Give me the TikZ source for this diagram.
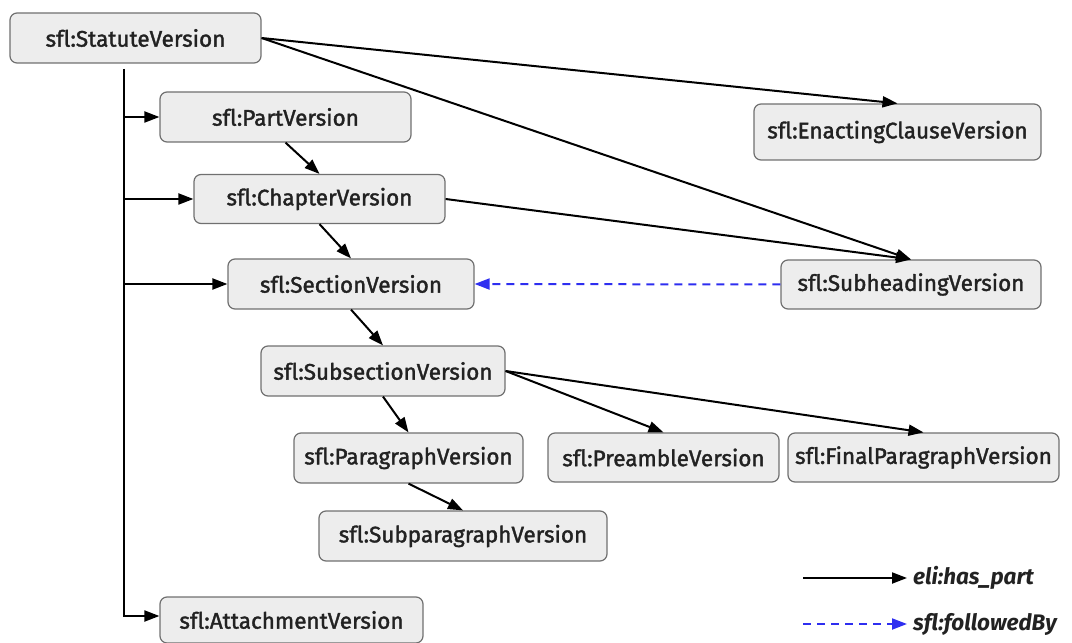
\documentclass[tikz,border=0pt]{standalone}
\usepackage{fontspec}
\setmainfont{Fira Sans}[Ligatures=NoCommon, RawFeature={embolden=1.6}]
\newfontfamily\legendfont{Fira Sans}[Ligatures=NoCommon]
\usetikzlibrary{arrows.meta}
\definecolor{boxfill}{HTML}{EDEDED}
\definecolor{boxline}{HTML}{707070}
\definecolor{labtext}{HTML}{222222}
\definecolor{seqblue}{HTML}{2E2EF0}
\tikzset{
  vbox/.style={draw=boxline, fill=boxfill, rounded corners=7bp, line width=1.2bp,
    text=labtext, inner sep=0pt, minimum height=50bp,
    font=\fontsize{22.5bp}{26bp}\selectfont},
  haspart/.style={draw=black, line width=2bp, -{Triangle[length=15bp,width=11bp]}},
  followed/.style={draw=seqblue, line width=2bp, dash pattern=on 8bp off 6bp,
    -{Triangle[length=15bp,width=11bp]}},
  legendtext/.style={anchor=west, inner sep=0pt, text=labtext,
    font=\legendfont\fontsize{22.5bp}{26bp}\selectfont\bfseries\itshape}
}
\begin{document}
\begin{tikzpicture}[x=1bp,y=-1bp]
\useasboundingbox (0,0) rectangle (1072,643);

% version nodes
\node[vbox, minimum width=251bp] (st)    at (135.5,38)  {sfl:StatuteVersion};
\node[vbox, minimum width=251bp] (part)  at (285.5,117) {sfl:PartVersion};
\node[vbox, minimum width=251bp, minimum height=49bp] (chap) at (319.5,199) {sfl:ChapterVersion};
\node[vbox, minimum width=246bp] (sec)   at (351,284)   {sfl:SectionVersion};
\node[vbox, minimum width=287bp, minimum height=56bp] (enact) at (897.5,132) {sfl:EnactingClauseVersion};
\node[vbox, minimum width=260bp, minimum height=49bp] (subh) at (911,284.5) {sfl:SubheadingVersion};
\node[vbox, minimum width=244bp] (subs)  at (383,371)   {sfl:SubsectionVersion};
\node[vbox, minimum width=229bp] (para)  at (408.5,458) {sfl:ParagraphVersion};
\node[vbox, minimum width=231bp, minimum height=49bp] (pre) at (663.5,457.5) {sfl:PreambleVersion};
\node[vbox, minimum width=271bp, minimum height=49bp] (fin) at (923.5,457.5) {sfl:FinalParagraphVersion};
\node[vbox, minimum width=288bp] (subp)  at (463,536)   {sfl:SubparagraphVersion};
\node[vbox, minimum width=263bp, minimum height=46bp] (att) at (291.5,620) {sfl:AttachmentVersion};

% vertical trunk from the statute down to the attachment
\coordinate (trunk) at (124,69);
\draw[haspart] (trunk) |- ([yshift=4bp]att.west);
\draw[haspart] (trunk |- part.west) -- (part.west);
\draw[haspart] (trunk |- chap.west) -- (chap.west);
\draw[haspart] (trunk |- sec.west) -- (sec.west);

% direct has_part links
\draw[haspart] (st.east) -- (enact.north);
\draw[haspart] (st.east) -- (subh.north);
\draw[haspart] (chap.east) -- (subh.north);
\draw[haspart] (part.south) -- (chap.north);
\draw[haspart] (chap.south) -- (sec.north);
\draw[haspart] (sec.south) -- (subs.north);
\draw[haspart] (subs.south) -- (para.north);
\draw[haspart] (para.south) -- (subp.north);
\draw[haspart] (subs.east) -- (pre.north);
\draw[haspart] (subs.east) -- (fin.north);

% sequence link
\draw[followed] (subh.west) -- (sec.east);

% legend
\coordinate (la) at (803,578);
\coordinate (lb) at (907,578);
\coordinate (lc) at (803,624);
\coordinate (ld) at (907,624);
\draw[haspart] (la) -- (lb);
\draw[followed] (lc) -- (ld);
\node[legendtext] (lt1) at (913,578) {eli:has\_part};
\node[legendtext] (lt2) at (913,624) {sfl:followedBy};
\end{tikzpicture}
\end{document}
